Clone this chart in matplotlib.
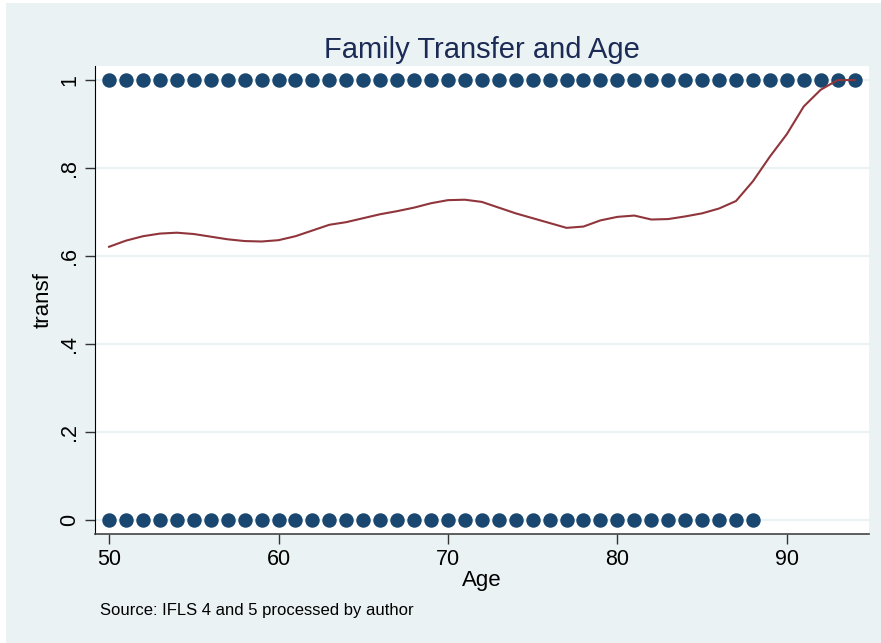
import numpy as np
import matplotlib.pyplot as plt
from matplotlib.patches import Rectangle

# 数据
ages_yes = np.arange(50, 95)  # transf = 1 的年龄
ages_no = np.arange(50, 89)  # transf = 0 的年龄
lowess_age = np.arange(50, 95)
lowess_val = [0.621, 0.635, 0.645, 0.651, 0.653, 0.650, 0.644, 0.638, 0.634, 0.633,
              0.636, 0.645, 0.658, 0.671, 0.677, 0.686, 0.695, 0.702, 0.710, 0.720,
              0.727, 0.728, 0.723, 0.710, 0.697, 0.686, 0.675, 0.664, 0.667, 0.681,
              0.689, 0.692, 0.683, 0.684, 0.690, 0.697, 0.708, 0.725, 0.770, 0.826,
              0.877, 0.940, 0.978, 1.0, 1.0]
yticks = [0, 0.2, 0.4, 0.6, 0.8, 1.0]
yticklabels = ["0", ".2", ".4", ".6", ".8", "1"]
xticks = [50, 60, 70, 80, 90]

plt.rcParams['font.family'] = ['Liberation Sans', 'DejaVu Sans']

bg = "#eaf2f3"
navy = "#1a476f"
maroon = "#90353b"

fig = plt.figure(figsize=(8.81, 6.43), dpi=100)
fig.patch.set_facecolor("white")
fig.patches.append(Rectangle((6 / 881, 0), 1, 1 - 3 / 643, transform=fig.transFigure,
                             facecolor=bg, edgecolor="none", zorder=-1))

ax = fig.add_axes([95 / 881, 109 / 643, 774 / 881, 468 / 643])
ax.set_facecolor("white")

ax.plot(ages_yes, np.ones(len(ages_yes)), "o", color=navy, markersize=9.4, zorder=3)
ax.plot(ages_no, np.zeros(len(ages_no)), "o", color=navy, markersize=9.4, zorder=3)
ax.plot(lowess_age, lowess_val, color=maroon, linewidth=1.5, zorder=4)

ax.set_xlim(49.17, 94.85)
ax.set_ylim(-0.032, 1.032)
ax.set_yticks(yticks)
ax.set_yticklabels(yticklabels, rotation=90, va="center")
ax.set_xticks(xticks)
ax.tick_params(labelsize=15.5, length=7, width=1, color="#333333")
ax.yaxis.grid(True, color=bg, linewidth=1.6)
ax.set_axisbelow(True)

for s in ["top", "right"]:
    ax.spines[s].set_visible(False)
ax.spines["left"].set_color("black")
ax.spines["bottom"].set_color("#444444")
ax.spines["bottom"].set_linewidth(1.2)

ax.set_ylabel("transf", fontsize=16, labelpad=4)
ax.set_xlabel("Age", fontsize=16, labelpad=0)
ax.set_title("Family Transfer and Age", fontsize=21, color="#1c2b55", pad=6)

fig.text(100 / 881, 1 - 611 / 643, "Source: IFLS 4 and 5 processed by author",
         fontsize=12, va="center", ha="left")

plt.savefig("out.png", dpi=100, facecolor=fig.get_facecolor())
